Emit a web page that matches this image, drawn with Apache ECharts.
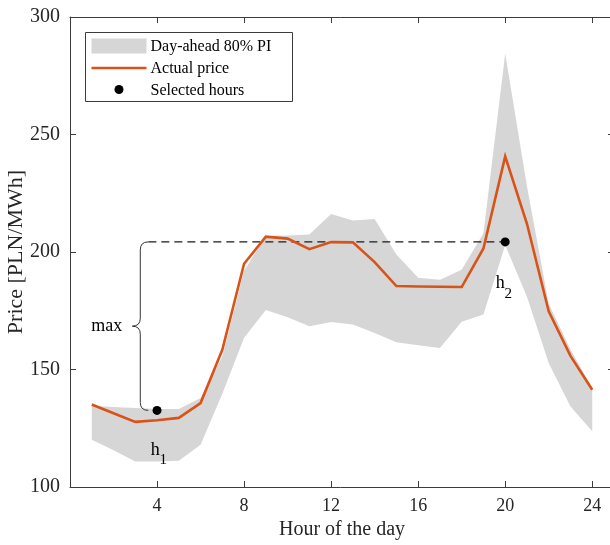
<!DOCTYPE html>
<html>
<head>
<meta charset="utf-8">
<style>
  html, body { margin: 0; padding: 0; background: #fff; }
  #chart { width: 610px; height: 545px; }
</style>
<script src="https://cdn.jsdelivr.net/npm/echarts@6/dist/echarts.min.js"></script>
</head>
<body>
<div id="chart"></div>
<script>
// Hourly price data for one delivery day
const hours = [1, 2, 3, 4, 5, 6, 7, 8, 9, 10, 11, 12, 13, 14, 15, 16, 17, 18, 19, 20, 21, 22, 23, 24];
const actualPrice = [135.1, 131.4, 127.7, 128.4, 129.4, 135.7, 158.4, 195.0, 206.5, 205.7, 201.2, 204.2,
                     204.1, 195.7, 185.5, 185.3, 185.2, 185.1, 201.5, 240.7, 212.0, 174.8, 155.8, 141.4];
const piLower = [120.1, 115.6, 110.9, 110.9, 111.2, 118.0, 139.7, 163.5, 175.3, 172.2, 168.4, 170.2,
                 169.2, 165.5, 161.6, 160.3, 159.2, 170.3, 173.4, 203.0, 181.0, 152.8, 134.3, 123.7];
const piUpper = [134.6, 134.0, 133.6, 133.2, 133.2, 137.9, 155.5, 192.0, 206.8, 207.0, 207.4, 216.2,
                 213.4, 214.0, 198.9, 189.0, 188.2, 192.5, 208.0, 284.5, 228.0, 178.0, 158.5, 142.0];
const selectedHours = [4, 20];
const selectedPrice = [132.6, 204.3];
const xTicks = [4, 8, 12, 16, 20, 24];
const yTicks = [100, 150, 200, 250, 300];

const SERIF = '"Liberation Serif", "DejaVu Serif", serif';
const AXIS_COLOR = '#3c3c3c';
const TEXT_COLOR = '#262626';
const BAND_COLOR = '#d6d6d6';
const LINE_COLOR = '#d95319';

// Brace spanning the gap between the two selected hours, and the dashed level line
const braceHour = 3.23;
const dashStartHour = 3.6;
const annotations = [
  { hour: 3.92, value: 115.7, main: 'h', sub: '1' },
  { hour: 19.77, value: 186.5, main: 'h', sub: '2' }
];

const chart = echarts.init(document.getElementById('chart'), null, { renderer: 'canvas' });

const axisCommon = {
  axisLine: { show: true, onZero: false, lineStyle: { color: AXIS_COLOR, width: 1 } },
  axisTick: { show: true, inside: true, length: 6, lineStyle: { color: AXIS_COLOR, width: 1 } },
  splitLine: { show: false }
};

const option = {
  animation: false,
  backgroundColor: '#ffffff',
  grid: { left: 70, top: 17, right: -4, bottom: 58, containLabel: false, outerBoundsMode: 'none' },
  xAxis: [
    Object.assign({
      type: 'value', min: 0, max: 25, interval: 4, position: 'bottom',
      name: 'Hour of the day', nameLocation: 'middle', nameGap: 33, nameMoveOverlap: false,
      nameTextStyle: { fontFamily: SERIF, fontSize: 20, color: TEXT_COLOR },
      axisLabel: {
        margin: 10, fontFamily: SERIF, fontSize: 18, color: TEXT_COLOR,
        showMinLabel: false, showMaxLabel: false,
        formatter: v => (xTicks.indexOf(v) >= 0 ? String(v) : '')
      }
    }, axisCommon),
    Object.assign({
      type: 'value', min: 0, max: 25, interval: 4, position: 'top',
      axisLabel: { show: false }
    }, axisCommon)
  ],
  yAxis: [
    Object.assign({
      type: 'value', min: 100, max: 300, interval: 50, position: 'left',
      name: 'Price [PLN/MWh]', nameLocation: 'middle', nameGap: 43, nameMoveOverlap: false,
      nameTextStyle: { fontFamily: SERIF, fontSize: 22, color: TEXT_COLOR },
      axisLabel: {
        margin: 10, fontFamily: SERIF, fontSize: 20, color: TEXT_COLOR,
        formatter: v => (yTicks.indexOf(v) >= 0 ? String(v) : '')
      }
    }, axisCommon),
    Object.assign({
      type: 'value', min: 100, max: 300, interval: 50, position: 'right',
      axisLabel: { show: false }
    }, axisCommon)
  ],
  series: [
    {
      // shaded 80% prediction interval, drawn as one polygon through the scales
      name: 'Day-ahead 80% PI',
      type: 'custom',
      data: hours.map((h, i) => [h, piLower[i], piUpper[i]]),
      silent: true,
      z: 1,
      renderItem: function (params, api) {
        if (params.dataIndex !== 0) return null;
        const upperPts = hours.map((h, i) => api.coord([h, piUpper[i]]));
        const lowerPts = hours.map((h, i) => api.coord([h, piLower[i]])).reverse();
        return {
          type: 'polygon',
          shape: { points: upperPts.concat(lowerPts) },
          style: { fill: BAND_COLOR, stroke: 'none' }
        };
      }
    },
    {
      name: 'Max level',
      type: 'line',
      data: [[dashStartHour, selectedPrice[1]], [selectedHours[1], selectedPrice[1]]],
      symbol: 'none',
      lineStyle: { color: '#1a1a1a', width: 1.2, type: [8, 5] },
      silent: true,
      z: 3
    },
    {
      name: 'Actual price',
      type: 'line',
      data: hours.map((h, i) => [h, actualPrice[i]]),
      symbol: 'none',
      lineStyle: { color: LINE_COLOR, width: 2.6, join: 'miter' },
      silent: true,
      z: 4
    },
    {
      name: 'Selected hours',
      type: 'scatter',
      data: selectedHours.map((h, i) => [h, selectedPrice[i]]),
      symbol: 'circle',
      symbolSize: 9,
      itemStyle: { color: '#000000', opacity: 1 },
      silent: true,
      z: 5
    },
    {
      // curly brace marking the spread between the selected hours
      name: 'Spread brace',
      type: 'custom',
      data: [[braceHour, selectedPrice[0], selectedPrice[1]]],
      silent: true,
      z: 3,
      renderItem: function (params, api) {
        const top = api.coord([api.value(0), api.value(2)]);
        const bot = api.coord([api.value(0), api.value(1)]);
        const x = top[0];
        const y0 = top[1];
        const y1 = bot[1];
        const ym = (y0 + y1) / 2;
        const r = 8;
        const path =
          'M' + (x + r) + ' ' + y0 +
          ' Q' + x + ' ' + y0 + ' ' + x + ' ' + (y0 + r) +
          ' L' + x + ' ' + (ym - r) +
          ' Q' + x + ' ' + ym + ' ' + (x - r) + ' ' + ym +
          ' Q' + x + ' ' + ym + ' ' + x + ' ' + (ym + r) +
          ' L' + x + ' ' + (y1 - r) +
          ' Q' + x + ' ' + y1 + ' ' + (x + r) + ' ' + y1;
        return {
          type: 'group',
          children: [
            {
              type: 'path',
              shape: { pathData: path },
              style: { fill: 'none', stroke: '#333333', lineWidth: 1 }
            },
            {
              type: 'text',
              style: {
                text: 'max', x: x - r - 10, y: ym,
                align: 'right', verticalAlign: 'middle',
                font: '18px ' + SERIF, fill: '#000000'
              }
            }
          ]
        };
      }
    },
    {
      // hour labels with subscripts
      name: 'Hour labels',
      type: 'custom',
      data: annotations.map(a => [a.hour, a.value]),
      silent: true,
      z: 6,
      renderItem: function (params, api) {
        const a = annotations[params.dataIndex];
        const p = api.coord([api.value(0), api.value(1)]);
        return {
          type: 'group',
          children: [
            {
              type: 'text',
              style: {
                text: a.main, x: p[0], y: p[1],
                align: 'center', verticalAlign: 'middle',
                font: '18px ' + SERIF, fill: '#000000'
              }
            },
            {
              type: 'text',
              style: {
                text: a.sub, x: p[0] + 8, y: p[1] + 10,
                align: 'center', verticalAlign: 'middle',
                font: '15px ' + SERIF, fill: '#000000'
              }
            }
          ]
        };
      }
    }
  ],
  graphic: [
    {
      type: 'group',
      left: 85, top: 32,
      z: 100,
      children: [
        { type: 'rect', shape: { x: 0, y: 0, width: 207, height: 69 },
          style: { fill: '#ffffff', stroke: '#3c3c3c', lineWidth: 1 } },
        { type: 'rect', shape: { x: 6, y: 6, width: 55, height: 15 },
          style: { fill: BAND_COLOR } },
        { type: 'text', style: { text: 'Day-ahead 80% PI', x: 65, y: 14.5, verticalAlign: 'middle',
          font: '16px ' + SERIF, fill: '#000000' } },
        { type: 'line', shape: { x1: 6, y1: 35.5, x2: 61, y2: 35.5 },
          style: { stroke: LINE_COLOR, lineWidth: 2.6 } },
        { type: 'text', style: { text: 'Actual price', x: 65, y: 36.5, verticalAlign: 'middle',
          font: '16px ' + SERIF, fill: '#000000' } },
        { type: 'circle', shape: { cx: 33.5, cy: 57, r: 4.5 },
          style: { fill: '#000000' } },
        { type: 'text', style: { text: 'Selected hours', x: 65, y: 58, verticalAlign: 'middle',
          font: '16px ' + SERIF, fill: '#000000' } }
      ]
    }
  ]
};

chart.setOption(option);
</script>
</body>
</html>
